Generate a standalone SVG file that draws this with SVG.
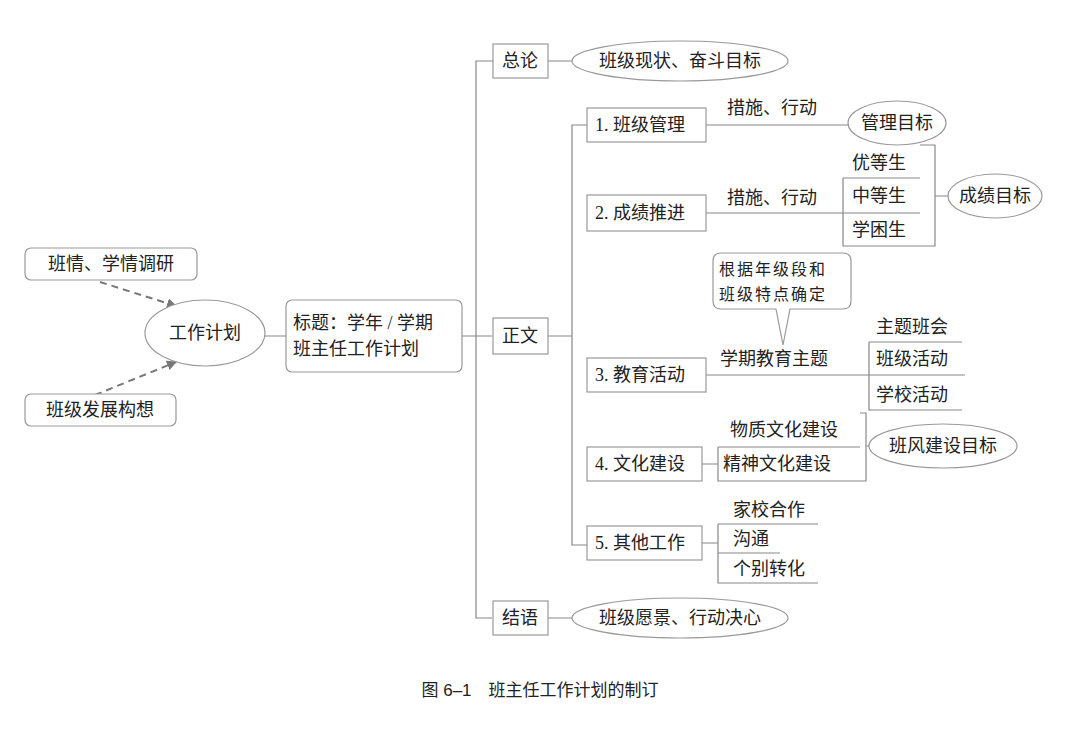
<svg xmlns="http://www.w3.org/2000/svg" width="1080" height="737" viewBox="0 0 1080 737">
<defs>
<style>
text{font-family:"Liberation Serif","Noto Sans CJK SC",serif;font-size:18px;fill:#222;dominant-baseline:central}
.c{text-anchor:middle}
.b{fill:#fff;stroke:#999;stroke-width:1.2}
.l{fill:none;stroke:#888;stroke-width:1.2}
.d{fill:none;stroke:#777;stroke-width:2;stroke-dasharray:7 5}
</style>
<marker id="a" viewBox="0 0 10 10" refX="9" refY="5" markerWidth="5" markerHeight="5" orient="auto"><path d="M0,0L10,5L0,10z" fill="#777"/></marker>
</defs>
<rect width="1080" height="737" fill="#fff"/>
<g id="connectors">
<path class="d" d="M100,282L176,306" marker-end="url(#a)"/>
<path class="d" d="M95,395L176,362" marker-end="url(#a)"/>
<path class="l" d="M265,336H286M462,336H492M493,61H476V618H492M548,61H572M548,336H572M587,125H572V545H587M548,618H572"/>
<path class="l" d="M706,125H848M706,213H920M843,178H920M843,178V246H920M920,145H935V246H920M935,196H948"/>
<path class="l" d="M706,375H965M869,342H962M869,342V410H962"/>
<path class="l" d="M702,464H718M718,447H860M718,447V481H860M860,413H866V481H860M866,446H869"/>
<path class="l" d="M702,543H718M718,524H818M718,524V583H818M718,553H780"/>
</g>
<g id="n1"><rect class="b" x="25" y="248" width="172" height="32" rx="6"/><text class="c" x="111" y="264">班情、学情调研</text></g>
<g id="n2"><rect class="b" x="25" y="394" width="151" height="32" rx="6"/><text class="c" x="100" y="410">班级发展构想</text></g>
<g id="n3"><ellipse class="b" cx="205" cy="333" rx="60" ry="33"/><text class="c" x="205" y="333">工作计划</text></g>
<g id="n4"><rect class="b" x="286" y="300" width="176" height="72" rx="6"/><text x="293" y="323">标题：学年 / 学期</text><text x="293" y="349">班主任工作计划</text></g>
<g id="n5"><rect class="b" x="493" y="44" width="55" height="34"/><text class="c" x="520" y="61">总论</text></g>
<g id="n6"><ellipse class="b" cx="680" cy="61" rx="108" ry="20"/><text class="c" x="680" y="61">班级现状、奋斗目标</text></g>
<g id="n7"><rect class="b" x="493" y="318" width="55" height="36"/><text class="c" x="520" y="336">正文</text></g>
<g id="n8"><rect class="b" x="587" y="108" width="119" height="34"/><text x="595" y="125">1. 班级管理</text></g>
<text x="727" y="108">措施、行动</text>
<g id="n9"><ellipse class="b" cx="897" cy="123" rx="49" ry="22"/><text class="c" x="897" y="123">管理目标</text></g>
<g id="n10"><rect class="b" x="587" y="195" width="119" height="36"/><text x="595" y="213">2. 成绩推进</text></g>
<text x="727" y="198">措施、行动</text>
<text x="852" y="163">优等生</text><text x="852" y="196">中等生</text><text x="852" y="230">学困生</text>
<g id="n11"><ellipse class="b" cx="995" cy="196" rx="47" ry="22"/><text class="c" x="995" y="196">成绩目标</text></g>
<g id="n12"><path class="b" d="M721,253H843Q851,253 851,261V301Q851,309 843,309H790L783,345L776,309H721Q713,309 713,301V261Q713,253 721,253Z"/><text x="719" y="269" style="font-size:16px;letter-spacing:2px">根据年级段和</text><text x="719" y="294" style="font-size:16px;letter-spacing:2px">班级特点确定</text></g>
<text x="720" y="359">学期教育主题</text>
<g id="n13"><rect class="b" x="587" y="358" width="119" height="34"/><text x="595" y="375">3. 教育活动</text></g>
<text x="876" y="327">主题班会</text><text x="876" y="359">班级活动</text><text x="876" y="395">学校活动</text>
<g id="n14"><rect class="b" x="587" y="447" width="115" height="34"/><text x="595" y="464">4. 文化建设</text></g>
<text x="730" y="430">物质文化建设</text><text x="723" y="464">精神文化建设</text>
<g id="n15"><ellipse class="b" cx="943" cy="446" rx="74" ry="22"/><text class="c" x="943" y="446">班风建设目标</text></g>
<g id="n16"><rect class="b" x="587" y="526" width="115" height="34"/><text x="595" y="543">5. 其他工作</text></g>
<text x="733" y="510">家校合作</text><text x="733" y="539">沟通</text><text x="733" y="569">个别转化</text>
<g id="n17"><rect class="b" x="493" y="601" width="55" height="34"/><text class="c" x="520" y="618">结语</text></g>
<g id="n18"><ellipse class="b" cx="680" cy="618" rx="108" ry="20"/><text class="c" x="680" y="618">班级愿景、行动决心</text></g>
<text class="c" x="540" y="690" style="font-family:'Liberation Sans','Noto Sans CJK SC',sans-serif;font-size:17px">图 6–1　班主任工作计划的制订</text>
</svg>
